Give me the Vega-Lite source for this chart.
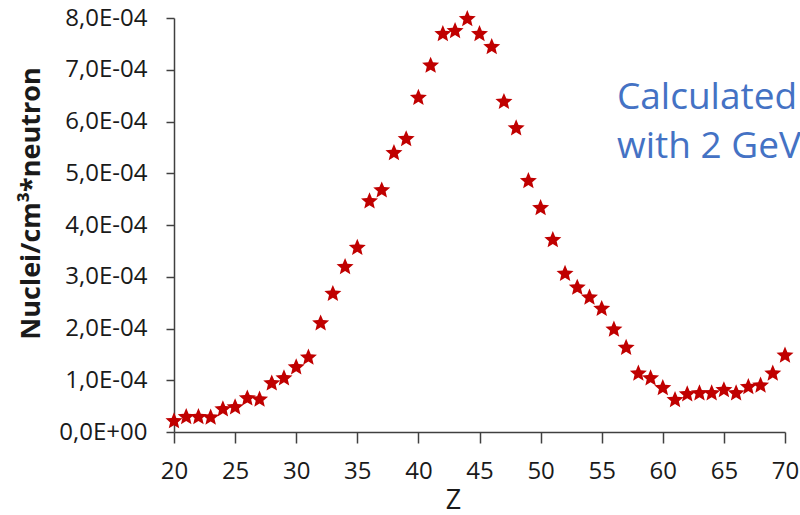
{
  "$schema": "https://vega.github.io/schema/vega-lite/v6.json",
  "width": 611,
  "height": 414,
  "autosize": "none",
  "padding": {"left": 174, "top": 18, "right": 15, "bottom": 83},
  "background": "white",
  "config": {"view": {"stroke": null}, "font": "Open Sans"},
  "data": {"values": [
    {"Z": 20, "v": 0.000021}, {"Z": 21, "v": 0.000029}, {"Z": 22, "v": 0.000029}, {"Z": 23, "v": 0.000028},
    {"Z": 24, "v": 0.000044}, {"Z": 25, "v": 0.000048}, {"Z": 26, "v": 0.000065}, {"Z": 27, "v": 0.000063},
    {"Z": 28, "v": 0.000094}, {"Z": 29, "v": 0.000104}, {"Z": 30, "v": 0.000125}, {"Z": 31, "v": 0.000144},
    {"Z": 32, "v": 0.000210}, {"Z": 33, "v": 0.000267}, {"Z": 34, "v": 0.000319}, {"Z": 35, "v": 0.000356},
    {"Z": 36, "v": 0.000446}, {"Z": 37, "v": 0.000467}, {"Z": 38, "v": 0.000539}, {"Z": 39, "v": 0.000566},
    {"Z": 40, "v": 0.000646}, {"Z": 41, "v": 0.000708}, {"Z": 42, "v": 0.000769}, {"Z": 43, "v": 0.000775},
    {"Z": 44, "v": 0.000798}, {"Z": 45, "v": 0.000769}, {"Z": 46, "v": 0.000744}, {"Z": 47, "v": 0.000638},
    {"Z": 48, "v": 0.000587}, {"Z": 49, "v": 0.000485}, {"Z": 50, "v": 0.000433}, {"Z": 51, "v": 0.000371},
    {"Z": 52, "v": 0.000306}, {"Z": 53, "v": 0.000279}, {"Z": 54, "v": 0.000260}, {"Z": 55, "v": 0.000238},
    {"Z": 56, "v": 0.000198}, {"Z": 57, "v": 0.000163}, {"Z": 58, "v": 0.000113}, {"Z": 59, "v": 0.000104},
    {"Z": 60, "v": 0.000085}, {"Z": 61, "v": 0.000062}, {"Z": 62, "v": 0.000073}, {"Z": 63, "v": 0.000075},
    {"Z": 64, "v": 0.000075}, {"Z": 65, "v": 0.000081}, {"Z": 66, "v": 0.000075}, {"Z": 67, "v": 0.000087},
    {"Z": 68, "v": 0.000090}, {"Z": 69, "v": 0.000113}, {"Z": 70, "v": 0.000148}
  ]},
  "layer": [
    {
      "mark": {
        "type": "point",
        "filled": true,
        "shape": "M0,-1L0.2645,-0.364L0.951,-0.309L0.428,0.139L0.588,0.809L0,0.45L-0.588,0.809L-0.428,0.139L-0.951,-0.309L-0.2645,-0.364Z",
        "size": 320,
        "color": "#C00000",
        "opacity": 1
      },
      "encoding": {
        "x": {
          "field": "Z", "type": "quantitative",
          "scale": {"domain": [20, 70], "nice": false, "zero": false},
          "axis": {
            "values": [20, 25, 30, 35, 40, 45, 50, 55, 60, 65, 70],
            "grid": false,
            "labelFlush": false,
            "labelOverlap": false,
            "domainColor": "#404040", "domainWidth": 1.5,
            "tickColor": "#404040", "tickWidth": 1.5, "tickSize": 11,
            "labelFontSize": 24, "labelColor": "#1a1a1a", "labelPadding": 16, "labelFont": "Open Sans",
            "title": "Z", "titleFontSize": 27, "titleFontWeight": "normal", "titleColor": "#1a1a1a", "titleFont": "Open Sans",
            "titleX": 279, "titleY": 68, "titleBaseline": "middle", "titleAlign": "center"
          }
        },
        "y": {
          "field": "v", "type": "quantitative",
          "scale": {"domain": [0, 0.0008], "nice": false},
          "axis": {
            "values": [0, 0.00005, 0.0001, 0.00015, 0.0002, 0.00025, 0.0003, 0.00035, 0.0004, 0.00045, 0.0005, 0.00055, 0.0006, 0.00065, 0.0007, 0.00075, 0.0008],
            "labelExpr": "abs(datum.value*1e4 - round(datum.value*1e4)) > 0.01 ? '' : (datum.value == 0 ? '0,0E+00' : replace(format(datum.value*1e4, '.1f'), '.', ',') + 'E-04')",
            "grid": false,
            "labelFlush": false,
            "labelOverlap": false,
            "domainColor": "#404040", "domainWidth": 1.5,
            "tickColor": "#404040", "tickWidth": 1.5, "tickSize": 8,
            "labelFontSize": 24, "labelColor": "#1a1a1a", "labelPadding": 19, "labelFont": "Open Sans",
            "title": "Nuclei/cm³*neutron", "titleFontSize": 27, "titleFontWeight": "bold", "titleColor": "#1a1a1a", "titleFont": "Open Sans",
            "titleAngle": -90, "titleX": -143, "titleY": 185, "titleAlign": "center", "titleBaseline": "middle"
          }
        }
      }
    },
    {
      "data": {"values": [{"line1": "Calculated", "line2": "with 2 GeV"}]},
      "mark": {
        "type": "text",
        "align": "left",
        "baseline": "alphabetic",
        "fontSize": 37,
        "font": "Open Sans",
        "color": "#4472C4",
        "lineHeight": 49
      },
      "encoding": {
        "x": {"datum": 56.25, "type": "quantitative"},
        "y": {"datum": 0.000625, "type": "quantitative"},
        "text": {"value": ["Calculated", "with 2 GeV"]}
      }
    }
  ]
}
